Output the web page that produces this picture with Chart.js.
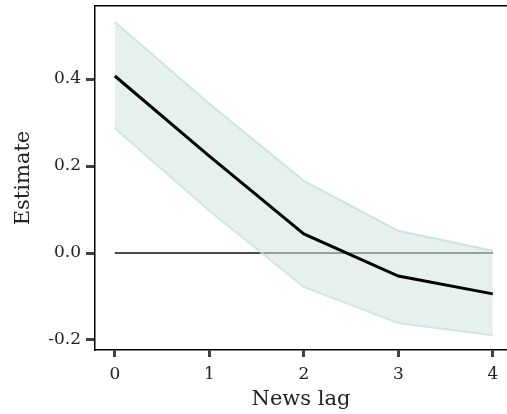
<!DOCTYPE html>
<html>
<head>
<meta charset="utf-8">
<script src="https://cdn.jsdelivr.net/npm/chart.js@4"></script>
<style>
  html, body { margin: 0; padding: 0; background: #fff; }
  #wrap { width: 507px; height: 414px; }
</style>
</head>
<body>
<div id="wrap"><canvas id="myChart"></canvas></div>
<script>
// data
const lags = [0, 1, 2, 3, 4];
const estimate = [0.407, 0.223, 0.044, -0.053, -0.094];
const upper = [0.531, 0.343, 0.166, 0.051, 0.005];
const lower = [0.287, 0.097, -0.078, -0.161, -0.189];
const zeroLine = [0, 0];
const xTicks = [0, 1, 2, 3, 4];
const yTicks = [-0.2, 0.0, 0.2, 0.4];

const serif = "'DejaVu Serif', 'Liberation Serif', serif";
const bandEdge = 'rgba(190, 222, 214, 0.75)';
const bandFill = 'rgba(211, 230, 226, 0.56)';

function pts(xs, ys) {
    return xs.map(function(x, i) { return {x: x, y: ys[i]}; });
}

var ctx = document.getElementById('myChart').getContext('2d');
var chart = new Chart(ctx, {
    type: 'line',
    data: {
        datasets: [
            {
                label: 'Estimate',
                data: pts(lags, estimate),
                borderColor: '#000',
                borderWidth: 3,
                pointRadius: 0,
                fill: false,
                order: 0
            },
            {
                label: 'upper',
                data: pts(lags, upper),
                borderColor: bandEdge,
                borderWidth: 2,
                backgroundColor: bandFill,
                pointRadius: 0,
                fill: '+1',
                order: 1
            },
            {
                label: 'lower',
                data: pts(lags, lower),
                borderColor: bandEdge,
                borderWidth: 2,
                pointRadius: 0,
                fill: false,
                order: 1
            },
            {
                label: 'zero',
                data: pts([lags[0], lags[lags.length - 1]], zeroLine),
                borderColor: '#111',
                borderWidth: 1.5,
                pointRadius: 0,
                fill: false,
                order: 2
            }
        ]
    },
    options: {
        responsive: true,
        maintainAspectRatio: false,
        animation: false,
        layout: { padding: { top: 6, right: 0, left: 0, bottom: 0 } },
        plugins: {
            legend: { display: false },
            tooltip: { enabled: false }
        },
        scales: {
            x: {
                type: 'linear',
                min: -0.21,
                max: 4.15,
                afterBuildTicks: function(axis) {
                    axis.ticks = xTicks.map(function(v) { return {value: v}; });
                },
                afterFit: function(axis) {
                    axis.height = 64;
                    axis.paddingLeft = 0;
                    axis.paddingRight = 0;
                },
                ticks: {
                    color: '#222',
                    font: { family: serif, size: 17 },
                    padding: 7,
                    maxRotation: 0
                },
                grid: {
                    drawOnChartArea: false,
                    drawTicks: true,
                    tickLength: 7,
                    tickWidth: 3,
                    tickColor: '#404040'
                },
                border: { display: true, color: '#000', width: 1.5 },
                title: {
                    display: true,
                    text: 'News lag',
                    color: '#222',
                    font: { family: serif, size: 21 },
                    padding: { top: 2, bottom: 2 }
                }
            },
            x2: {
                type: 'linear',
                position: 'top',
                min: -0.21,
                max: 4.15,
                afterFit: function(axis) {
                    axis.height = 0;
                    axis.paddingLeft = 0;
                    axis.paddingRight = 0;
                },
                ticks: { display: false },
                grid: { display: false },
                border: { display: true, color: '#000', width: 1.5 }
            },
            y: {
                type: 'linear',
                min: -0.223,
                max: 0.568,
                afterBuildTicks: function(axis) {
                    axis.ticks = yTicks.map(function(v) { return {value: v}; });
                },
                afterFit: function(axis) {
                    axis.width = 95;
                    axis.paddingTop = 0;
                    axis.paddingBottom = 0;
                },
                ticks: {
                    color: '#222',
                    font: { family: serif, size: 17 },
                    padding: 5,
                    callback: function(v) { return v.toFixed(1); }
                },
                grid: {
                    drawOnChartArea: false,
                    drawTicks: true,
                    tickLength: 9,
                    tickWidth: 3,
                    tickColor: '#404040'
                },
                border: { display: true, color: '#000', width: 1.5 },
                title: {
                    display: true,
                    text: 'Estimate',
                    color: '#222',
                    font: { family: serif, size: 21 },
                    padding: { top: 11, bottom: 0 }
                }
            }
        }
    }
});
</script>
</body>
</html>
